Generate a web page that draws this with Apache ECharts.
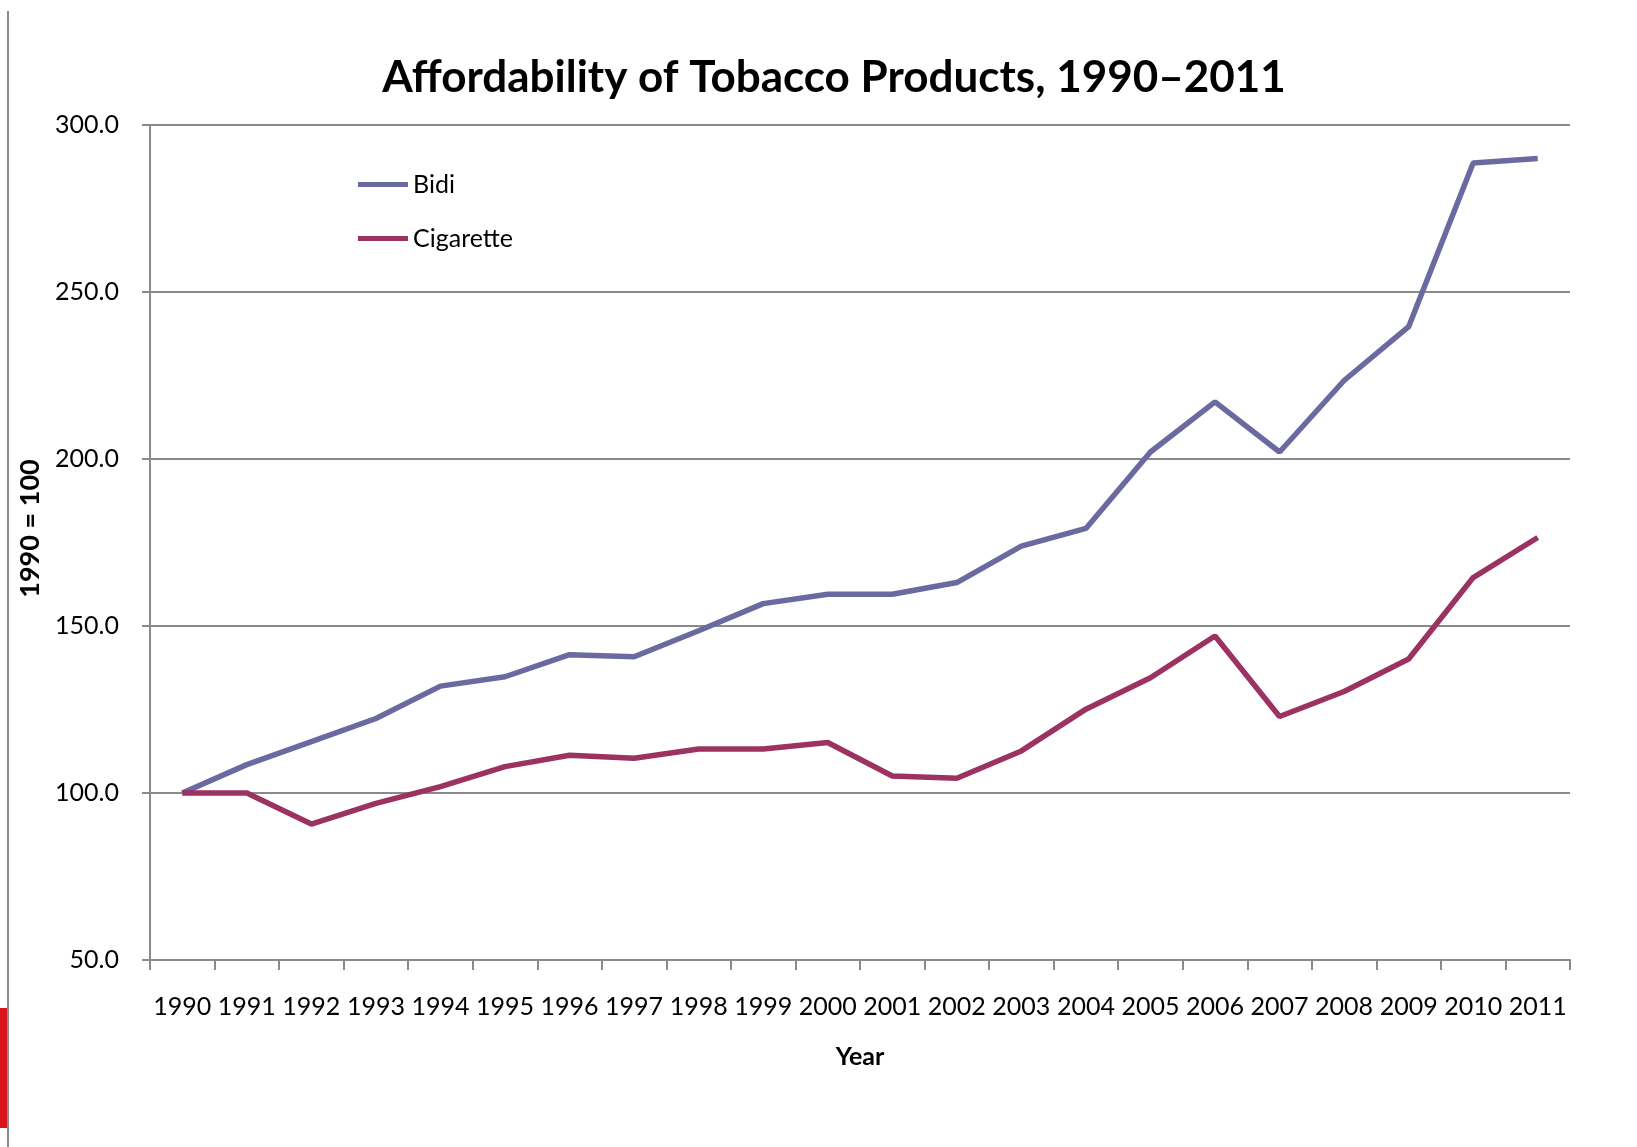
<!DOCTYPE html>
<html>
<head>
<meta charset="utf-8">
<script src="https://cdn.jsdelivr.net/npm/echarts@6/dist/echarts.min.js"></script>
<style>
html,body{margin:0;padding:0;background:#fff;}
#chart{width:1637px;height:1147px;}
</style>
</head>
<body>
<div id="chart"></div>
<script>
const years = ['1990','1991','1992','1993','1994','1995','1996','1997','1998','1999','2000','2001','2002','2003','2004','2005','2006','2007','2008','2009','2010','2011'];
const bidi = [100.0,108.5,115.4,122.3,132.0,134.8,141.4,140.8,148.6,156.7,159.5,159.5,163.0,173.9,179.2,202.1,217.1,202.1,223.5,239.6,288.6,290.0];
const cigarette = [100.0,100.0,90.7,96.9,101.9,107.9,111.3,110.4,113.2,113.2,115.1,105.1,104.4,112.6,125.1,134.5,147.0,122.9,130.4,140.1,164.5,176.5];
const yTicks = {min:50, max:300, interval:50};

const FONT = 'Lato';
const chart = echarts.init(document.getElementById('chart'));
chart.setOption({
  animation:false,
  backgroundColor:'#fff',
  title:{
    text:'Affordability of Tobacco Products, 1990–2011',
    left:829, top:51, textAlign:'center',
    textStyle:{fontFamily:FONT,fontWeight:'bold',fontSize:44,color:'#000'}
  },
  legend:{
    orient:'vertical', left:353, top:167, itemWidth:50, itemHeight:5, itemGap:29,
    icon:'rect',
    textStyle:{fontFamily:FONT,fontSize:25,color:'#000'},
    data:['Bidi','Cigarette']
  },
  grid:{left:150,right:67,top:125,bottom:187},
  xAxis:{
    type:'category', data:years, boundaryGap:true,
    name:'Year', nameLocation:'middle', nameGap:84,
    nameTextStyle:{fontFamily:FONT,fontWeight:'bold',fontSize:25,color:'#000'},
    axisLine:{lineStyle:{color:'#8a8a8a',width:2}},
    axisTick:{show:true,length:10,lineStyle:{color:'#8a8a8a',width:2}},
    axisLabel:{fontFamily:FONT,fontSize:25,color:'#000',margin:34,interval:0}
  },
  yAxis:{
    type:'value', min:yTicks.min, max:yTicks.max, interval:yTicks.interval,
    name:'1990 = 100', nameLocation:'middle', nameRotate:90, nameGap:101,
    nameTextStyle:{fontFamily:FONT,fontWeight:'bold',fontSize:27,color:'#000',padding:[0,0,0,28]},
    axisLine:{show:true,lineStyle:{color:'#8a8a8a',width:2}},
    axisTick:{show:true,length:8,lineStyle:{color:'#8a8a8a',width:2}},
    axisLabel:{fontFamily:FONT,fontSize:25,color:'#000',margin:31,formatter:v=>v.toFixed(1)},
    splitLine:{lineStyle:{color:'#8a8a8a',width:2}}
  },
  series:[
    {name:'Bidi',type:'line',data:bidi,symbol:'none',lineStyle:{color:'#6A6AA0',width:5.5},itemStyle:{color:'#6A6AA0'}},
    {name:'Cigarette',type:'line',data:cigarette,symbol:'none',lineStyle:{color:'#9B3262',width:5.5},itemStyle:{color:'#9B3262'}}
  ],
  graphic:[
    {type:'line',shape:{x1:8,y1:11,x2:8,y2:1147},style:{stroke:'#8a8a8a',lineWidth:2}},
    {type:'rect',shape:{x:0,y:1008,width:7,height:120},style:{fill:'#D8141C'}}
  ]
});
</script>
</body>
</html>
